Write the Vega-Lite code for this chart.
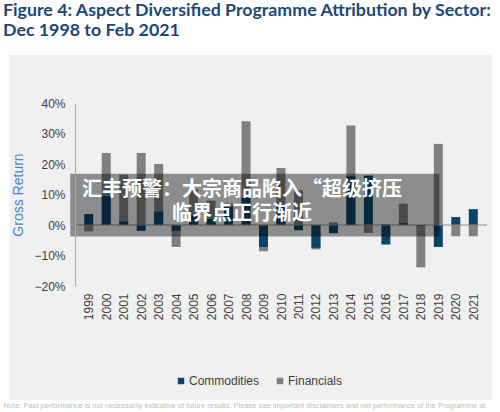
{
  "$schema": "https://vega.github.io/schema/vega-lite/v6.json",
  "width": 412,
  "height": 183,
  "autosize": {"type": "none"},
  "padding": {"left": 75, "top": 103, "right": 13, "bottom": 126},
  "background": "#ffffff",
  "config": {
    "axis": {"labelOverlap": false, "labelBound": false, "labelFlush": false}
  },
  "title": {
    "text": ["Figure 4: Aspect Diversified Programme Attribution by Sector:", "Dec 1998 to Feb 2021"],
    "anchor": "start",
    "frame": "group",
    "dx": -72,
    "offset": 15,
    "font": "Lato",
    "fontSize": 17.8,
    "fontWeight": "bold",
    "color": "#1a4877",
    "lineHeight": 20
  },
  "data": {
    "values": [
      {"year": 1999, "sector": "Financials", "value": -0.021},
      {"year": 2000, "sector": "Financials", "value": 0.236},
      {"year": 2001, "sector": "Financials", "value": 0.165},
      {"year": 2002, "sector": "Financials", "value": 0.236},
      {"year": 2003, "sector": "Financials", "value": 0.200},
      {"year": 2004, "sector": "Financials", "value": -0.072},
      {"year": 2005, "sector": "Financials", "value": 0.118},
      {"year": 2006, "sector": "Financials", "value": 0.080},
      {"year": 2007, "sector": "Financials", "value": 0.070},
      {"year": 2008, "sector": "Financials", "value": 0.340},
      {"year": 2009, "sector": "Financials", "value": -0.086},
      {"year": 2010, "sector": "Financials", "value": 0.187},
      {"year": 2011, "sector": "Financials", "value": 0.114},
      {"year": 2012, "sector": "Financials", "value": -0.080},
      {"year": 2013, "sector": "Financials", "value": 0.009},
      {"year": 2014, "sector": "Financials", "value": 0.326},
      {"year": 2015, "sector": "Financials", "value": -0.026},
      {"year": 2016, "sector": "Financials", "value": 0.003},
      {"year": 2017, "sector": "Financials", "value": 0.070},
      {"year": 2018, "sector": "Financials", "value": -0.139},
      {"year": 2019, "sector": "Financials", "value": 0.266},
      {"year": 2020, "sector": "Financials", "value": -0.037},
      {"year": 2021, "sector": "Financials", "value": -0.037},
      {"year": 1999, "sector": "Commodities", "value": 0.036},
      {"year": 2000, "sector": "Commodities", "value": 0.095},
      {"year": 2001, "sector": "Commodities", "value": 0.012},
      {"year": 2002, "sector": "Commodities", "value": -0.019},
      {"year": 2003, "sector": "Commodities", "value": 0.044},
      {"year": 2004, "sector": "Commodities", "value": -0.019},
      {"year": 2005, "sector": "Commodities", "value": 0.035},
      {"year": 2006, "sector": "Commodities", "value": 0.020},
      {"year": 2007, "sector": "Commodities", "value": 0.060},
      {"year": 2008, "sector": "Commodities", "value": 0.089},
      {"year": 2009, "sector": "Commodities", "value": -0.072},
      {"year": 2010, "sector": "Commodities", "value": 0.060},
      {"year": 2011, "sector": "Commodities", "value": -0.017},
      {"year": 2012, "sector": "Commodities", "value": -0.075},
      {"year": 2013, "sector": "Commodities", "value": -0.027},
      {"year": 2014, "sector": "Commodities", "value": 0.160},
      {"year": 2015, "sector": "Commodities", "value": 0.162},
      {"year": 2016, "sector": "Commodities", "value": -0.064},
      {"year": 2017, "sector": "Commodities", "value": 0.006},
      {"year": 2018, "sector": "Commodities", "value": -0.003},
      {"year": 2019, "sector": "Commodities", "value": -0.072},
      {"year": 2020, "sector": "Commodities", "value": 0.026},
      {"year": 2021, "sector": "Commodities", "value": 0.052}
    ]
  },
  "layer": [
    {
      "data": {"values": [{}]},
      "mark": {"type": "rect", "color": "#f0f0f0"},
      "encoding": {
        "x": {"datum": 1994.48},
        "x2": {"datum": 2022.06},
        "y": {"datum": 0.557},
        "y2": {"datum": -0.574}
      }
    },
    {
      "mark": {"type": "bar", "size": 9},
      "encoding": {
        "x": {
          "field": "year",
          "type": "quantitative",
          "scale": {"domain": [1998.5, 2021.5], "nice": false, "zero": false},
          "axis": {
            "values": [1999, 2000, 2001, 2002, 2003, 2004, 2005, 2006, 2007, 2008, 2009, 2010, 2011, 2012, 2013, 2014, 2015, 2016, 2017, 2018, 2019, 2020, 2021],
            "tickCount": 23,
            "zindex": 1,
            "format": "d",
            "labelAngle": 270,
            "labelOverlap": false,
            "labelFont": "Liberation Sans",
            "labelFontSize": 12,
            "labelColor": "#404040",
            "labelPadding": 7,
            "ticks": false,
            "domain": false,
            "grid": false,
            "title": "Note: Past performance is not necessarily indicative of future results. Please see important disclaimers and net performance of the Programme at",
            "titleFont": "Liberation Sans",
            "titleFontSize": 7.5,
            "titleFontWeight": "normal",
            "titleColor": "#bdbdbd",
            "titleX": -72,
            "titleY": 119,
            "titleAlign": "left",
            "titleBaseline": "middle",
            "titleAngle": 0
          }
        },
        "y": {
          "field": "value",
          "type": "quantitative",
          "stack": null,
          "scale": {"domain": [-0.2, 0.4], "nice": false},
          "axis": {
            "values": [-0.2, -0.1, 0, 0.1, 0.2, 0.3, 0.4],
            "tickCount": 7,
            "zindex": 1,
            "format": ".0%",
            "labelOverlap": false,
            "labelFont": "Liberation Sans",
            "labelFontSize": 12,
            "labelColor": "#404040",
            "labelPadding": 10,
            "ticks": false,
            "domainColor": "#a6a6a6",
            "gridColor": "#d9d9d9",
            "title": "Gross Return",
            "titleFont": "Liberation Sans",
            "titleFontSize": 14,
            "titleFontWeight": "normal",
            "titleColor": "#4a86c8",
            "titlePadding": 8
          }
        },
        "color": {
          "field": "sector",
          "type": "nominal",
          "scale": {"domain": ["Commodities", "Financials"], "range": ["#0a4468", "#808080"]},
          "legend": {
            "orient": "none",
            "legendX": 100,
            "legendY": 272,
            "zindex": 1,
            "direction": "horizontal",
            "title": null,
            "symbolType": "square",
            "symbolSize": 42,
            "symbolStrokeWidth": 0,
            "labelFont": "Liberation Sans",
            "labelFontSize": 12,
            "labelColor": "#404040",
            "labelOffset": 2,
            "columnPadding": 14,
            "padding": 0
          }
        },
        "order": {"value": 2}
      }
    },
    {
      "data": {"values": [{}]},
      "mark": {"type": "rule", "color": "#8c8c8c", "strokeWidth": 1},
      "encoding": {"y": {"datum": 0}, "order": {"value": 2}}
    },
    {
      "data": {"values": [{}]},
      "mark": {"type": "rect", "color": "#000000", "opacity": 0.41},
      "encoding": {
        "x": {"datum": 1997.94},
        "x2": {"datum": 2019.06},
        "y": {"datum": 0.168},
        "y2": {"datum": -0.038},
        "order": {"value": 3}
      }
    },
    {
      "data": {"values": [{"t": "汇丰预警：大宗商品陷入“超级挤压"}]},
      "mark": {"type": "text", "font": "Noto Sans CJK SC", "fontSize": 20, "fontWeight": "bold", "color": "#ffffff", "align": "center", "baseline": "middle"},
      "encoding": {
        "x": {"datum": 2007.77},
        "y": {"datum": 0.116},
        "text": {"field": "t"},
        "order": {"value": 4}
      }
    },
    {
      "data": {"values": [{"t": "临界点正行渐近"}]},
      "mark": {"type": "text", "font": "Noto Sans CJK SC", "fontSize": 20, "fontWeight": "bold", "color": "#ffffff", "align": "center", "baseline": "middle"},
      "encoding": {
        "x": {"datum": 2007.77},
        "y": {"datum": 0.037},
        "text": {"field": "t"},
        "order": {"value": 4}
      }
    }
  ]
}
